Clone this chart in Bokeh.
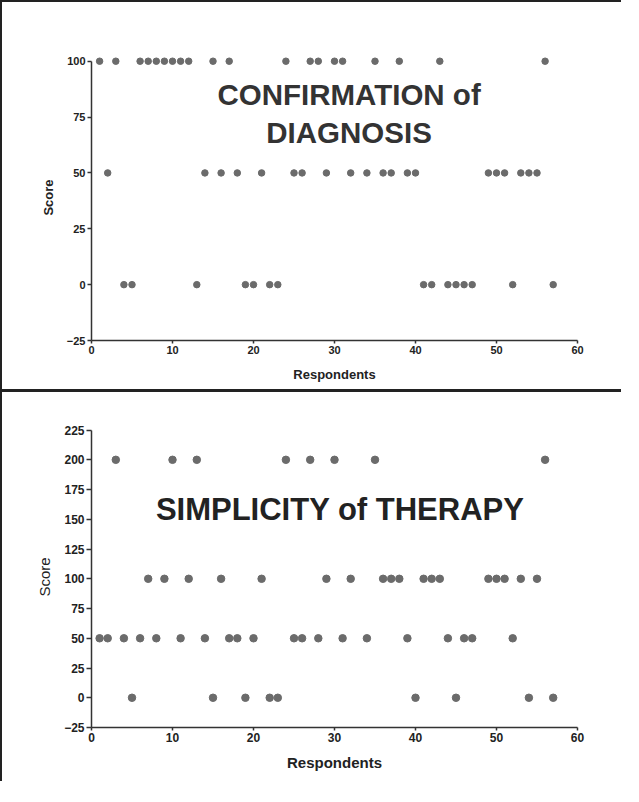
from bokeh.plotting import figure
from bokeh.layouts import column
from bokeh.models import FixedTicker, Label, Range1d, ColumnDataSource
from bokeh.embed import file_html
from bokeh.resources import INLINE

# ---------------- data ----------------
diag_respondents = [1, 2, 3, 4, 5, 6, 7, 8, 9, 10, 11, 12, 13, 14, 15, 16, 17, 18, 19, 20,
                    21, 22, 23, 24, 25, 26, 27, 28, 29, 30, 31, 32, 34, 35, 36, 37, 38, 39, 40,
                    41, 42, 43, 44, 45, 46, 47, 49, 50, 51, 52, 53, 54, 55, 56, 57]
diag_scores = [100, 50, 100, 0, 0, 100, 100, 100, 100, 100, 100, 100, 0, 50, 100, 50, 100, 50, 0, 0,
               50, 0, 0, 100, 50, 50, 100, 100, 50, 100, 100, 50, 50, 100, 50, 50, 100, 50, 50,
               0, 0, 100, 0, 0, 0, 0, 50, 50, 50, 0, 50, 50, 50, 100, 0]

ther_respondents = [1, 2, 3, 4, 5, 6, 7, 8, 9, 10, 11, 12, 13, 14, 15, 16, 17, 18, 19, 20,
                    21, 22, 23, 24, 25, 26, 27, 28, 29, 30, 31, 32, 34, 35, 36, 37, 38, 39, 40,
                    41, 42, 43, 44, 45, 46, 47, 49, 50, 51, 52, 53, 54, 55, 56, 57]
ther_scores = [50, 50, 200, 50, 0, 50, 100, 50, 100, 200, 50, 100, 200, 50, 0, 100, 50, 50, 0, 50,
               100, 0, 0, 200, 50, 50, 200, 50, 100, 200, 50, 100, 50, 200, 100, 100, 100, 50, 0,
               100, 100, 100, 50, 0, 50, 50, 100, 100, 100, 50, 100, 0, 100, 200, 0]

x_ticks = [0, 10, 20, 30, 40, 50, 60]
diag_y_ticks = [-25, 0, 25, 50, 75, 100]
ther_y_ticks = [-25, 0, 25, 50, 75, 100, 125, 150, 175, 200, 225]

FONT = "Liberation Sans"
DOT = "#6b6b6b"
AX = "#333333"


def style_axes(p, y_bounds, tick_size, xlab_size, ylab_size, ylab_style, ytick_out,
               xstand, ystand):
    p.xgrid.visible = False
    p.ygrid.visible = False
    p.outline_line_color = None
    for ax in (p.xaxis[0], p.yaxis[0]):
        ax.axis_line_color = AX
        ax.axis_line_width = 1.5
        ax.major_tick_line_color = AX
        ax.major_tick_line_width = 1.5
        ax.major_tick_in = 0
        ax.minor_tick_line_color = None
        ax.major_label_text_font = FONT
        ax.major_label_text_font_style = "bold"
        ax.major_label_text_font_size = tick_size
        ax.major_label_text_color = "#222222"
        ax.axis_label_text_font = FONT
        ax.axis_label_text_color = "#222222"
    p.xaxis.major_tick_out = 3
    p.yaxis.major_tick_out = ytick_out
    p.xaxis.major_label_standoff = 2
    p.yaxis.major_label_standoff = 2
    p.xaxis.axis_label_text_font_size = xlab_size
    p.xaxis.axis_label_text_font_style = "bold"
    p.yaxis.axis_label_text_font_size = ylab_size
    p.yaxis.axis_label_text_font_style = ylab_style
    p.xaxis.axis_label_standoff = xstand
    p.yaxis.axis_label_standoff = ystand
    p.yaxis.bounds = y_bounds


# ---------------- top chart ----------------
p1 = figure(width=621, height=392, x_range=Range1d(0, 60), y_range=Range1d(-25, 103),
            output_backend="svg", toolbar_location=None, title=None,
            min_border_left=80, min_border_right=46, min_border_top=52, min_border_bottom=54,
            background_fill_color="white", border_fill_color="white",
            x_axis_label="Respondents", y_axis_label="Score")
p1.styles = {"border-left": "2px solid #222", "border-top": "2px solid #222",
             "border-bottom": "3px solid #222"}
src1 = ColumnDataSource(dict(x=diag_respondents, y=diag_scores))
p1.scatter("x", "y", source=src1, size=6.5, fill_color=DOT, line_color=DOT)
p1.xaxis.ticker = FixedTicker(ticks=x_ticks)
p1.yaxis.ticker = FixedTicker(ticks=diag_y_ticks)
style_axes(p1, (-25, 100), "11px", "13px", "13px", "bold", 4, 10, 8)
p1.add_layout(Label(x=31.8, y=85, text="CONFIRMATION of", text_align="center",
                    text_baseline="middle", text_font=FONT, text_font_style="bold",
                    text_font_size="29.5px", text_color="#333333"))
p1.add_layout(Label(x=31.8, y=68.2, text="DIAGNOSIS", text_align="center",
                    text_baseline="middle", text_font=FONT, text_font_style="bold",
                    text_font_size="29.5px", text_color="#333333"))

# ---------------- bottom chart ----------------
p2 = figure(width=621, height=389, x_range=Range1d(0, 60), y_range=Range1d(-25, 228),
            output_backend="svg", toolbar_location=None, title=None,
            min_border_left=89, min_border_right=25, min_border_top=34, min_border_bottom=54,
            background_fill_color="white", border_fill_color="white",
            x_axis_label="Respondents", y_axis_label="Score")
p2.styles = {"border-left": "2px solid #222"}
src2 = ColumnDataSource(dict(x=ther_respondents, y=ther_scores))
p2.scatter("x", "y", source=src2, size=7.5, fill_color=DOT, line_color=DOT)
p2.xaxis.ticker = FixedTicker(ticks=x_ticks)
p2.yaxis.ticker = FixedTicker(ticks=ther_y_ticks)
style_axes(p2, (-25, 225), "12px", "15px", "15px", "normal", 5, 9, 8)
p2.add_layout(Label(x=30.7, y=158.3, text="SIMPLICITY of THERAPY", text_align="center",
                    text_baseline="middle", text_font=FONT, text_font_style="bold",
                    text_font_size="31px", text_color="#222222"))

layout = column(p1, p2, spacing=0)
open("out.html", "w").write(file_html(layout, INLINE))
